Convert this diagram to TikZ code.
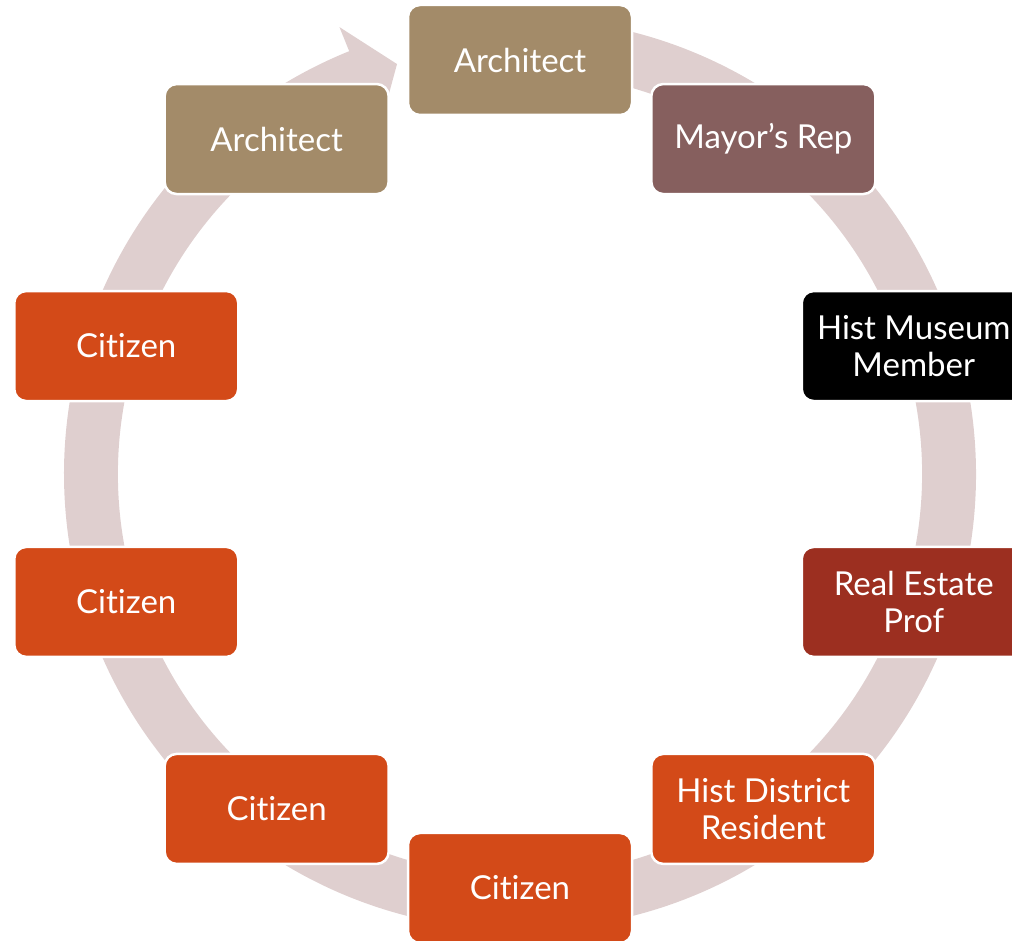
\documentclass[tikz,border=0pt]{standalone}
\usepackage{fontspec}
\setmainfont[Ligatures={NoCommon,NoRare}]{Lato}
\usetikzlibrary{calc}
\definecolor{ringc}{HTML}{DFCFCF}
\definecolor{archc}{HTML}{A38B69}
\definecolor{mayorc}{HTML}{865F5E}
\definecolor{realc}{HTML}{9C2F20}
\definecolor{citc}{HTML}{D34A18}
\tikzset{
  box/.style={draw=white, line width=2.5pt, rounded corners=12pt, minimum width=224pt, minimum height=110pt,
    text=white, align=center, font=\fontsize{33}{37}\selectfont, inner sep=0pt}
}
\begin{document}
\begin{tikzpicture}[x=1pt,y=1pt]
\useasboundingbox (0,0) rectangle (1012,941);
\clip (0,0) rectangle (1012,941);
\coordinate (C) at (520,467);
% ring with arrow
\fill[ringc] ($(C)+(95:456)$) arc[start angle=95, end angle=-248, radius=456]
  -- ($(C)+(-248:482)$) -- ($(C)+(-253.3:428)$) -- ($(C)+(-248:374)$)
  -- ($(C)+(-248:402)$) arc[start angle=-248, end angle=95, radius=402] -- cycle;
% boxes
\node[box, fill=archc]  (a1) at ($(C)+(90:414)$)   {Architect};
\node[box, fill=mayorc] (m)  at ($(C)+(54:414)$)   {Mayor’s Rep};
\node[box, fill=black]  (hm) at ($(C)+(18:414)$)   {Hist Museum\\Member};
\node[box, fill=realc]  (re) at ($(C)+(-18:414)$)  {Real Estate\\Prof};
\node[box, fill=citc]   (hd) at ($(C)+(-54:414)$)  {Hist District\\Resident};
\node[box, fill=citc]   (c1) at ($(C)+(-90:414)$)  {Citizen};
\node[box, fill=citc]   (c2) at ($(C)+(-126:414)$) {Citizen};
\node[box, fill=citc]   (c3) at ($(C)+(-162:414)$) {Citizen};
\node[box, fill=citc]   (c4) at ($(C)+(162:414)$)  {Citizen};
\node[box, fill=archc]  (a2) at ($(C)+(126:414)$)  {Architect};
\end{tikzpicture}
\end{document}
